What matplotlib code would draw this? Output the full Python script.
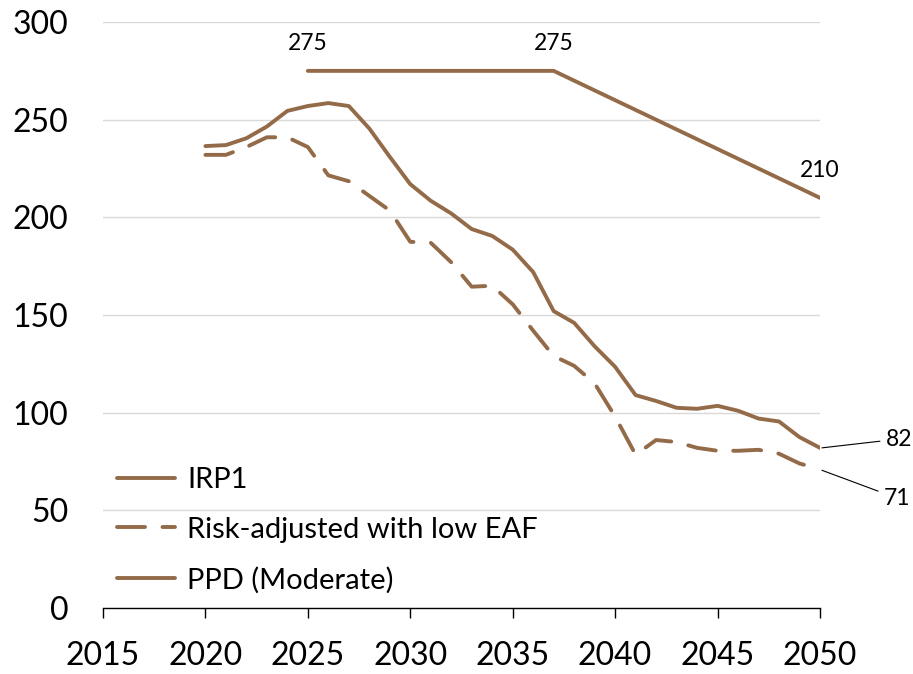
import matplotlib.pyplot as plt

# years shown on the x axis
years = list(range(2020, 2051))

# IRP1 (solid)
irp1 = [236.5, 237, 240.5, 246.5, 254.5, 257, 258.5, 257, 245.5, 231, 217,
        208.5, 202, 194, 190.5, 183.5, 172, 152, 146, 134, 123.5,
        109, 106, 102.5, 102, 103.5, 101, 97, 95.5, 87.5, 82]

# Risk-adjusted with low EAF (dashed)
risk_adj = [232, 232, 236, 241, 241, 236, 221.5, 218.5, 211, 203.5, 187.5,
            187, 177, 164.5, 165, 155.5, 142, 129, 124, 115, 98,
            78.5, 86, 85, 82, 80.5, 80.5, 81, 79, 74, 71]

# PPD (Moderate)
ppd_years = [2025, 2037, 2050]
ppd = [275, 275, 210]

brown = '#946B49'

plt.rcParams['font.family'] = ['Lato', 'DejaVu Sans']

fig = plt.figure(figsize=(9.13, 6.74), dpi=100)
ax = fig.add_axes([0.1128, 0.0979, 0.7853, 0.8694])

ax.plot(years, irp1, color=brown, lw=2.8, label='IRP1', solid_capstyle='round',
        solid_joinstyle='round')
ax.plot(years, risk_adj, color=brown, lw=2.8, linestyle=(0, (7.2, 4.5)),
        dash_capstyle='round', dash_joinstyle='round',
        label='Risk-adjusted with low EAF')
ax.plot(ppd_years, ppd, color=brown, lw=2.8, label='PPD (Moderate)',
        solid_capstyle='round')

# point labels for PPD
for x, y in zip(ppd_years, ppd):
    ax.text(x, y + 14, f'{y:d}', ha='center', va='center', fontsize=16.5)

# end labels with leader lines
ax.annotate(f'{irp1[-1]:d}', xy=(2050.1, irp1[-1]), xytext=(2053.2, 86.5),
            ha='left', va='center', fontsize=16.5,
            arrowprops=dict(arrowstyle='-', color='black', lw=0.8,
                            shrinkA=2, shrinkB=0),
            annotation_clip=False)
ax.annotate(f'{risk_adj[-1]:d}', xy=(2050.1, risk_adj[-1] - 0.5), xytext=(2053.1, 56.3),
            ha='left', va='center', fontsize=16.5,
            arrowprops=dict(arrowstyle='-', color='black', lw=0.8,
                            shrinkA=2, shrinkB=0),
            annotation_clip=False)

ax.set_xlim(2015, 2050)
ax.set_ylim(0, 300)
ax.set_xticks(range(2015, 2051, 5))
ax.set_yticks(range(0, 301, 50))

for s in ['top', 'right', 'left']:
    ax.spines[s].set_visible(False)
ax.spines['bottom'].set_color('black')
ax.spines['bottom'].set_linewidth(1.0)

ax.grid(axis='y', color='#D9D9D9', lw=1.0)
ax.set_axisbelow(True)

ax.tick_params(axis='y', length=0, pad=25, labelsize=23)
ax.tick_params(axis='x', length=7, width=1.0, direction='out', pad=17, labelsize=23)

leg = ax.legend(loc='lower left', bbox_to_anchor=(-0.005, -0.005), frameon=False,
                fontsize=21, handlelength=2.0, handletextpad=0.4,
                labelspacing=0.82, borderaxespad=0.2)

fig.savefig('out.png', dpi=100)
